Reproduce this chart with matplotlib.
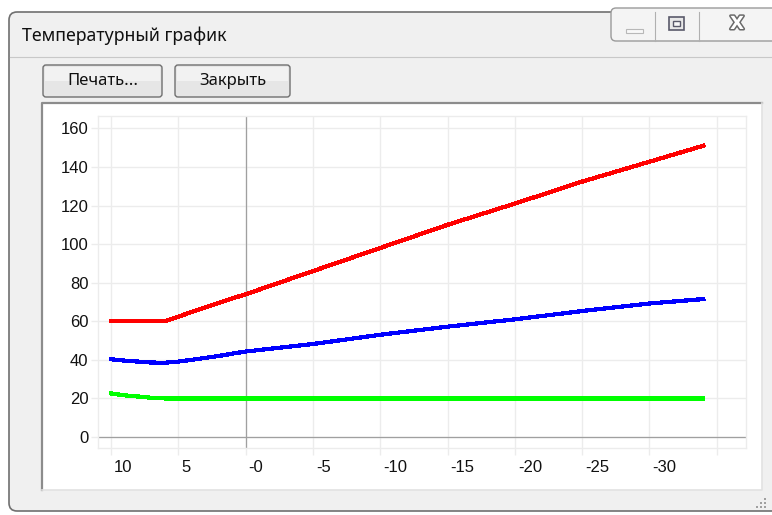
import matplotlib
matplotlib.use('Agg')
import matplotlib.pyplot as plt
from matplotlib.patches import Rectangle, FancyBboxPatch
import matplotlib.patheffects as pe
import matplotlib.transforms as mtransforms

# данные графика (наружная температура -> температура теплоносителя)
t_out = [10, 9, 8, 7, 6, 5, 4, 3, 2, 1, 0, -5, -10, -15, -20, -25, -30, -34]
t_supply = [60, 60, 60, 60, 60, 62.4, 64.8, 67.2, 69.5, 71.8, 74, 86, 98, 110, 121, 132.4, 142.7, 151]
t_return = [40.3, 39.6, 39.1, 38.6, 38.5, 39.1, 40, 41, 42, 43.2, 44.3, 48.2, 53, 57.2, 61, 65.3, 69.2, 71.5]
t_room = [22.6, 21.6, 21.0, 20.3, 20, 20, 20, 20, 20, 20, 20, 20, 20, 20, 20, 20, 20, 20]

x_ticks = [10, 5, 0, -5, -10, -15, -20, -25, -30, -35]
x_labels = ['10', '5', '-0', '-5', '-10', '-15', '-20', '-25', '-30', '']
y_ticks = [0, 20, 40, 60, 80, 100, 120, 140, 160]

W, H = 772, 515
fig = plt.figure(figsize=(W / 100, H / 100), dpi=100)
fig.patch.set_facecolor('white')

# фон окна, рисуем в пикселях
bg = fig.add_axes([0, 0, 1, 1])
bg.set_xlim(0, W)
bg.set_ylim(H, 0)
bg.axis('off')

win = FancyBboxPatch((9, 12), 800, 499, boxstyle='round,pad=0,rounding_size=8',
                     facecolor='#f0f0f0', edgecolor='#707070', lw=1.2)
bg.add_patch(win)
bg.plot([10, W], [57, 57], color='#c8c8c8', lw=0.8)
bg.text(22, 36, 'Температурный график', fontsize=12.8, family='Noto Sans',
        va='center', ha='left', color='#111111')

# кнопки управления окном
ctl = FancyBboxPatch((611, 8), 200, 33, boxstyle='round,pad=0,rounding_size=5',
                     facecolor='#f4f4f4', edgecolor='#9a9a9a', lw=1)
bg.add_patch(ctl)
for xx in (655, 699):
    bg.plot([xx, xx], [12, 41], color='#b0b0b0', lw=0.8)
bg.add_patch(Rectangle((626, 29), 17, 4, facecolor='#f8f8f8', edgecolor='#b8b8b8', lw=0.8))
bg.add_patch(Rectangle((669, 17), 15, 13, facecolor='#e8e8e8', edgecolor='#5a5a6a', lw=1.2))
bg.add_patch(Rectangle((673, 21), 7, 5, facecolor='#f8f8f8', edgecolor='#5a5a6a', lw=1))
bg.text(737, 24, 'X', fontsize=13, fontweight='bold', family='DejaVu Sans', ha='center',
        va='center', color='white',
        path_effects=[pe.withStroke(linewidth=2.2, foreground='#6a6a6a')])

# кнопки диалога
for bx, bw, label in [(43, 119, 'Печать...'), (175, 115, 'Закрыть')]:
    b = FancyBboxPatch((bx, 65), bw, 32, boxstyle='round,pad=0,rounding_size=3',
                       facecolor='#e6e6e6', edgecolor='#707070', lw=1)
    bg.add_patch(b)
    bg.add_patch(Rectangle((bx + 2, 67), bw - 4, 14, facecolor='#f2f2f2', edgecolor='none'))
    bg.text(bx + bw / 2, 81, label, fontsize=12, family='Noto Sans', ha='center',
            va='center', color='#111111')

# панель с графиком
bg.add_patch(Rectangle((42, 103), 720, 387, facecolor='white', edgecolor='none'))
bg.plot([42, 42, 762], [490, 103, 103], color='#8c8c8c', lw=1.6)
bg.plot([42, 762, 762], [490, 490, 103], color='#e2e2e2', lw=1.2)

# уголок изменения размера
for dx, dy in [(0, 0), (-4, 0), (-8, 0), (0, -4), (-4, -4), (0, -8)]:
    bg.add_patch(Rectangle((764 + dx, 506 + dy), 1.5, 1.5, facecolor='#a0a0a0', edgecolor='none'))

# сам график
ax = fig.add_axes([98 / W, (H - 448) / H, 648 / W, 332 / H])
ax.set_facecolor('white')
ax.set_xlim(10.97, -37.17)
ax.set_ylim(-5.7, 166.4)

for s in ax.spines.values():
    s.set_color('#ececec')
    s.set_linewidth(1)
ax.grid(True, color='#ececec', lw=1)
ax.set_axisbelow(True)
ax.axvline(0, color='#a0a0a0', lw=0.9, zorder=1)
ax.axhline(0, color='#a0a0a0', lw=0.9, zorder=1)

ax.plot(t_out, t_supply, color='#ff0000', lw=2.3, antialiased=False, zorder=3)
ax.plot(t_out, t_return, color='#0000ff', lw=2.3, antialiased=False, zorder=3)
ax.plot(t_out, t_room, color='#00ff00', lw=2.3, antialiased=False, zorder=3)

ax.set_xticks(x_ticks)
ax.set_xticklabels(x_labels)
ax.set_yticks(y_ticks)
ax.tick_params(axis='both', colors='#ececec', length=5, width=1, labelcolor='#111111',
               labelsize=12)
ax.tick_params(axis='x', pad=4)
ax.tick_params(axis='y', pad=2)
offset = mtransforms.ScaledTranslation(3 / 100, 0, fig.dpi_scale_trans)
for lab in ax.get_xticklabels():
    lab.set_horizontalalignment('left')
    lab.set_transform(lab.get_transform() + offset)
    lab.set_family('Liberation Sans')
for lab in ax.get_yticklabels():
    lab.set_family('Liberation Sans')

fig.savefig('out.png', dpi=100)
